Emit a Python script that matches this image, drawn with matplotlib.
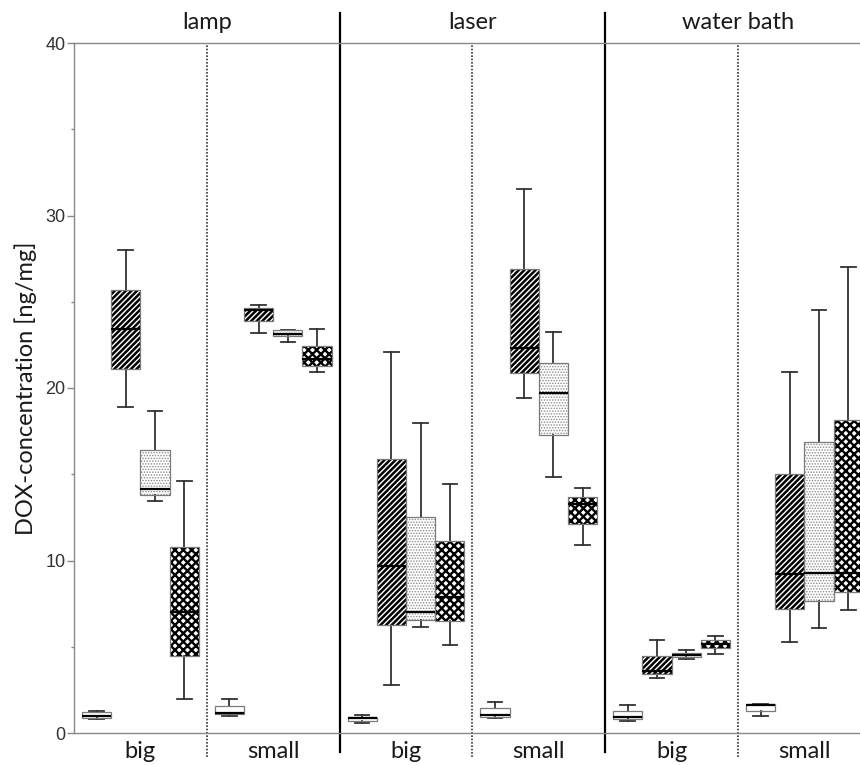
import numpy as np
import matplotlib
matplotlib.use('Agg')
import matplotlib.pyplot as plt
from matplotlib.patches import PathPatch

# Gruppen und Untergruppen
methods = ['lamp', 'laser', 'water bath']
sizes = ['big', 'small']

# Box-Statistik je Untergruppe: [Whisker unten, Q1, Median, Q3, Whisker oben]
# Reihenfolge: lamp big, lamp small, laser big, laser small, water bath big, water bath small
white = [[0.80, 0.85, 1.00, 1.20, 1.30],
         [0.98, 1.08, 1.18, 1.58, 1.97],
         [0.56, 0.72, 0.85, 0.95, 1.02],
         [0.87, 0.95, 1.04, 1.43, 1.80],
         [0.68, 0.83, 0.95, 1.30, 1.60],
         [0.98, 1.30, 1.62, 1.66, 1.70]]
hatched = [[18.9, 21.1, 23.4, 25.7, 28.0],
           [23.2, 23.9, 24.55, 24.65, 24.8],
           [2.8, 6.25, 9.7, 15.9, 22.1],
           [19.4, 20.85, 22.3, 26.9, 31.55],
           [3.2, 3.4, 3.6, 4.45, 5.4],
           [5.25, 7.2, 9.2, 15.0, 20.9]]
dotted = [[13.45, 13.8, 14.15, 16.4, 18.65],
          [22.65, 23.0, 23.15, 23.35, 23.35],
          [6.15, 6.55, 7.0, 12.5, 18.0],
          [14.85, 17.25, 19.7, 21.45, 23.25],
          [4.27, 4.4, 4.52, 4.65, 4.83],
          [6.1, 7.65, 9.25, 16.85, 24.5]]
checkered = [[2.0, 4.45, 7.0, 10.8, 14.6],
             [20.9, 21.25, 21.7, 22.45, 23.4],
             [5.1, 6.5, 7.9, 11.15, 14.45],
             [10.9, 12.1, 13.3, 13.7, 14.2],
             [4.6, 4.9, 5.15, 5.4, 5.62],
             [7.15, 8.2, 9.3, 18.15, 27.0]]

series = [white, hatched, dotted, checkered]
# Muster: (hatch, hatch-Farbe, hatch-Linienbreite)
muster = [(None, 'white', 0.5),
          ('/' * 6, 'black', 1.8),
          ('.' * 6, '#8c8c8c', 0.7),
          ('x' * 4, 'black', 1.7)]

text_font = ['Lato', 'DejaVu Sans']
fig = plt.figure(figsize=(8.6, 7.65), dpi=100)
ax = fig.add_axes([74 / 860, 32 / 765, 786 / 860, 690 / 765])

breite = 0.22
for k, daten in enumerate(series):
    hatch, hcol, hlw = muster[k]
    stats = [dict(whislo=d[0], q1=d[1], med=d[2], q3=d[3], whishi=d[4]) for d in daten]
    pos = np.arange(6) + 0.17 + k * breite
    bp = ax.bxp(stats, positions=pos, widths=breite, showfliers=False,
                patch_artist=True, manage_ticks=False,
                boxprops=dict(facecolor='white', edgecolor=hcol, linewidth=0),
                medianprops=dict(color='black', linewidth=1.6),
                whiskerprops=dict(color='#333333', linewidth=1.3),
                capprops=dict(color='#333333', linewidth=1.3))
    for box in bp['boxes']:
        if hatch:
            box.set_hatch(hatch)
            if hasattr(box, 'set_hatch_linewidth'):
                box.set_hatch_linewidth(hlw)
        # Rahmen der Box
        ax.add_patch(PathPatch(box.get_path(), fill=False, edgecolor='#7a7a7a',
                               linewidth=0.9, zorder=2.05))

# Trennlinien
for x in [2, 4]:
    ax.axvline(x, ymin=-0.0275, ymax=1.0435, color='black', lw=1.6, clip_on=False)
for x in [1, 3, 5]:
    ax.axvline(x, ymin=-0.035, ymax=0.997, color='#333333', lw=1.2,
               ls=(0, (1, 1)), clip_on=False)

# Gruppentitel
trans = ax.get_xaxis_transform()
for i, m in enumerate(methods):
    ax.text(2 * i + 1, 1.029, m, transform=trans, ha='center', va='center',
            fontsize=17, family=text_font, color='#1a1a1a')

ax.set_xlim(0, 786 / 132.8)
ax.set_ylim(0, 40)
ax.set_xticks(np.arange(6) + 0.5)
ax.set_xticklabels(sizes * 3, fontsize=17, family=text_font, color='#1a1a1a')
ax.tick_params(axis='x', length=0, pad=6)

ax.set_yticks([0, 10, 20, 30, 40])
ax.set_yticks(np.arange(5, 40, 10), minor=True)
ax.set_yticklabels(['0', '10', '20', '30', '40'], fontsize=13,
                   family='Liberation Sans', color='#333333')
ax.tick_params(axis='y', which='major', length=5, width=1, color='#888888', pad=1)
ax.tick_params(axis='y', which='minor', length=2.5, width=1, color='#888888')
ax.set_ylabel('DOX-concentration [ng/mg]', fontsize=17, family=text_font,
              color='#1a1a1a', labelpad=6)

for s in ['left', 'top', 'bottom']:
    ax.spines[s].set_color('#888888')
    ax.spines[s].set_linewidth(1.0)
ax.spines['right'].set_visible(False)

fig.savefig('out.png', dpi=100)
